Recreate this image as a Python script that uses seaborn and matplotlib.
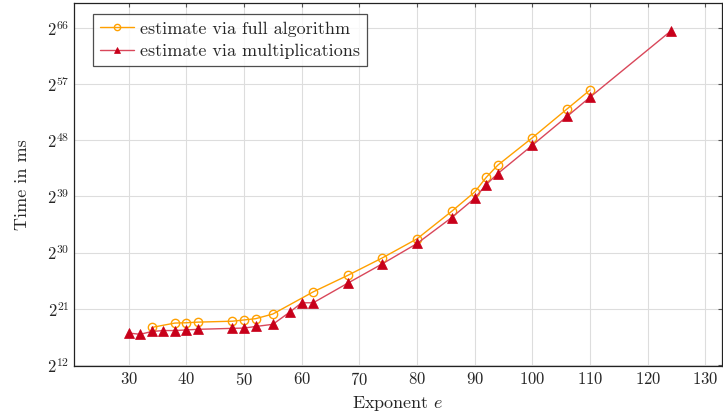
import pandas as pd
import seaborn as sns
import numpy as np
import matplotlib.pyplot as plt

# exponent e vs. log2 of time in ms
full_x = [34, 38, 40, 42, 48, 50, 52, 55, 62, 68, 74, 80, 86, 90, 92, 94, 100, 106, 110]
full_log2 = [18.0, 18.7, 18.75, 18.85, 19.0, 19.2, 19.4, 20.15, 23.7, 26.35, 29.15,
             32.2, 36.6, 39.7, 42.05, 44.0, 48.4, 53.0, 56.05]

mult_x = [30, 32, 34, 36, 38, 40, 42, 48, 50, 52, 55, 58, 60, 62, 68, 74, 80, 86,
          90, 92, 94, 100, 106, 110, 124]
mult_log2 = [17.1, 16.9, 17.35, 17.5, 17.5, 17.6, 17.7, 17.85, 17.9, 18.15, 18.5,
             20.5, 21.95, 21.95, 25.1, 28.2, 31.45, 35.6, 38.7, 40.9, 42.65, 47.2,
             51.8, 54.9, 65.5]

x_ticks = [30, 40, 50, 60, 70, 80, 90, 100, 110, 120, 130]
y_ticks = [12, 21, 30, 39, 48, 57, 66]

sns.set_style("whitegrid")
plt.rcParams['font.family'] = ['cmr10']
plt.rcParams['mathtext.fontset'] = 'cm'
plt.rcParams['axes.formatter.use_mathtext'] = True

fig, ax = plt.subplots(figsize=(7.23, 4.17), dpi=100)
fig.subplots_adjust(left=0.103, right=0.998, top=0.993, bottom=0.122)

sns.lineplot(x=full_x, y=full_log2, ax=ax, color='#ffa000', lw=1.0,
             marker='o', markersize=6, markerfacecolor='none',
             markeredgecolor='#ffa000', markeredgewidth=1.0,
             label='estimate via full algorithm')
sns.lineplot(x=mult_x, y=mult_log2, ax=ax, color='#d9475a', lw=1.0,
             marker='^', markersize=6.5, markerfacecolor='#c8001a',
             markeredgecolor='#c8001a', markeredgewidth=0.5,
             label='estimate via multiplications')

ax.set_xlim(20.6, 132.8)
ax.set_ylim(11.8, 70.0)
ax.set_xticks(x_ticks)
ax.set_yticks(y_ticks)
ax.set_yticklabels([f'$2^{{{t}}}$' for t in y_ticks])
ax.tick_params(labelsize=12, direction='in', length=3, width=0.8,
               top=True, right=True, color='#555555')
ax.grid(True, color='#dddddd', lw=0.8)
for s in ax.spines.values():
    s.set_color('#222222')
    s.set_linewidth(0.9)

ax.set_xlabel('Exponent $e$', fontsize=13)
ax.set_ylabel('Time in ms', fontsize=13, labelpad=12)

leg = ax.legend(loc='upper left', bbox_to_anchor=(0.028, 0.97), fontsize=13,
                frameon=True, fancybox=False, edgecolor='#222222',
                handlelength=1.9, handletextpad=0.3, borderpad=0.4,
                labelspacing=0.38, borderaxespad=0, markerscale=0.75)
leg.get_frame().set_linewidth(0.9)

plt.savefig('out.png', dpi=100)
